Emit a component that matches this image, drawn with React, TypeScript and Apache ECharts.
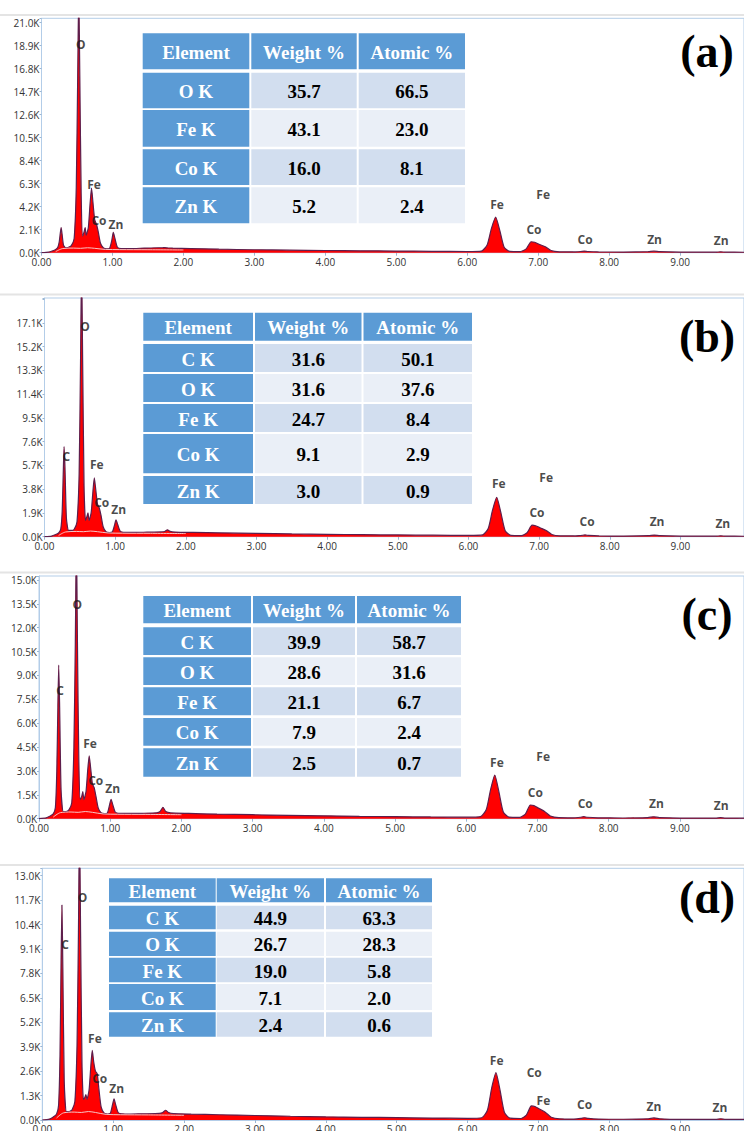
import React, { useEffect, useRef } from "react";
import * as echarts from "echarts";

// ---------- DATA ----------
const energies = [
  0.0, 0.1, 0.15, 0.2, 0.23, 0.25, 0.265, 0.277, 0.29, 0.31,
  0.34, 0.38, 0.42, 0.46, 0.49, 0.51, 0.525, 0.54, 0.56, 0.58,
  0.6, 0.615, 0.63, 0.66, 0.685, 0.705, 0.725, 0.75, 0.775, 0.8,
  0.83, 0.87, 0.92, 0.96, 0.99, 1.012, 1.035, 1.07, 1.12, 1.25,
  1.45, 1.65, 1.7, 1.74, 1.78, 1.85, 2.1, 2.5, 3.0, 3.5,
  4.0, 4.5, 5.0, 5.5, 6.0, 6.2, 6.28, 6.34, 6.4, 6.46,
  6.52, 6.6, 6.75, 6.83, 6.9, 6.95, 7.02, 7.1, 7.18, 7.3,
  7.5, 7.6, 7.65, 7.7, 7.85, 8.2, 8.55, 8.63, 8.71, 9.0,
  9.5, 9.57, 9.64, 9.9,
];

const countsA = [
  0, 50, 150, 300, 500, 1000, 1800, 2300, 1700, 700,
  450, 500, 650, 1300, 6000, 16000, 24000, 16000, 5000, 1500,
  1900, 2300, 1600, 2300, 4500, 5900, 4600, 3000, 2600, 1900,
  900, 450, 350, 400, 1100, 1850, 1300, 500, 380, 380,
  420, 450, 450, 460, 440, 420, 380, 320, 270, 230,
  200, 170, 150, 130, 110, 150, 700, 2200, 3250, 2000,
  500, 120, 100, 350, 1000, 950, 750, 550, 200, 80,
  70, 110, 150, 110, 70, 60, 90, 140, 90, 50,
  50, 80, 50, 40,
];

const countsB = [
  0, 50, 150, 300, 600, 2000, 5000, 7200, 5500, 1500,
  500, 500, 600, 1200, 5000, 14000, 22000, 14000, 4000, 1300,
  1600, 1900, 1300, 1900, 3600, 4700, 3800, 2600, 2300, 1700,
  800, 400, 330, 380, 900, 1350, 1000, 450, 350, 340,
  360, 380, 420, 550, 420, 370, 340, 300, 260, 220,
  190, 160, 140, 120, 100, 140, 650, 2100, 3150, 1900,
  480, 110, 90, 320, 920, 880, 700, 500, 180, 70,
  60, 100, 140, 100, 60, 50, 80, 130, 80, 45,
  45, 70, 45, 35,
];

const countsC = [
  0, 50, 150, 300, 700, 3000, 7000, 9650, 7000, 1800,
  450, 450, 550, 1000, 4500, 11000, 18000, 11000, 3500, 1200,
  1400, 1700, 1200, 1700, 3100, 3950, 3200, 2200, 1950, 1400,
  700, 380, 320, 360, 850, 1220, 900, 420, 340, 330,
  340, 370, 450, 720, 450, 360, 330, 290, 250, 210,
  180, 150, 130, 110, 95, 130, 560, 1800, 2740, 1650,
  420, 100, 85, 290, 860, 820, 650, 460, 170, 65,
  55, 90, 130, 90, 55, 45, 70, 120, 70, 40,
  40, 65, 40, 30,
];

const countsD = [
  0, 50, 150, 300, 800, 3500, 8500, 11440, 8000, 2000,
  450, 450, 550, 1000, 4000, 10000, 16000, 10000, 3000, 1100,
  1200, 1350, 1100, 1600, 2900, 3700, 3100, 2600, 2450, 1600,
  700, 380, 320, 360, 800, 1120, 820, 400, 330, 320,
  330, 350, 400, 520, 400, 340, 310, 280, 240, 200,
  170, 145, 125, 105, 90, 120, 520, 1700, 2520, 1550,
  400, 95, 80, 260, 750, 720, 570, 400, 150, 60,
  50, 85, 120, 85, 50, 40, 65, 110, 65, 35,
  35, 60, 35, 30,
];

// light background (bremsstrahlung fit) line
const bgEnergies = [0.2, 0.3, 0.45, 0.55, 0.65, 0.75, 0.9, 1.1, 1.5, 2.0];
const bgCounts = [100, 380, 420, 400, 450, 400, 300, 280, 270, 250];

const xTickLabels = ["0.00", "1.00", "2.00", "3.00", "4.00", "5.00", "6.00", "7.00", "8.00", "9.00"];
const yLabelsA = ["0.0K", "2.1K", "4.2K", "6.3K", "8.4K", "10.5K", "12.6K", "14.7K", "16.8K", "18.9K", "21.0K"];
const yLabelsB = ["0.0K", "1.9K", "3.8K", "5.7K", "7.6K", "9.5K", "11.4K", "13.3K", "15.2K", "17.1K"];
const yLabelsC = ["0.0K", "1.5K", "3.0K", "4.5K", "6.0K", "7.5K", "9.0K", "10.5K", "12.0K", "13.5K", "15.0K"];
const yLabelsD = ["0.0K", "1.3K", "2.6K", "3.9K", "5.2K", "6.5K", "7.8K", "9.1K", "10.4K", "11.7K", "13.0K"];

const peakLabelsA: [number, number, string][] = [
  [0.552, 19050, "O"], [0.74, 6245, "Fe"], [0.81, 2985, "Co"], [1.05, 2530, "Zn"],
  [6.42, 4355, "Fe"], [7.07, 5270, "Fe"], [6.94, 2135, "Co"], [7.66, 1220, "Co"],
  [8.64, 1160, "Zn"], [9.58, 1095, "Zn"],
];
const peakLabelsB: [number, number, string][] = [
  [0.31, 6420, "C"], [0.574, 16840, "O"], [0.74, 5750, "Fe"], [0.81, 2730, "Co"], [1.05, 2140, "Zn"],
  [6.43, 4230, "Fe"], [7.1, 4710, "Fe"], [6.97, 1900, "Co"], [7.68, 1180, "Co"],
  [8.67, 1180, "Zn"], [9.6, 1020, "Zn"],
];
const peakLabelsC: [number, number, string][] = [
  [0.295, 8040, "C"], [0.538, 13480, "O"], [0.716, 4730, "Fe"], [0.796, 2370, "Co"], [1.035, 1870, "Zn"],
  [6.43, 3560, "Fe"], [7.08, 3890, "Fe"], [6.97, 1620, "Co"], [7.67, 930, "Co"],
  [8.67, 930, "Zn"], [9.58, 800, "Zn"],
];
const peakLabelsD: [number, number, string][] = [
  [0.32, 9360, "C"], [0.569, 11850, "O"], [0.742, 4350, "Fe"], [0.81, 2220, "Co"], [1.05, 1690, "Zn"],
  [6.41, 3190, "Fe"], [6.94, 2520, "Co"], [7.07, 1060, "Fe"], [7.65, 800, "Co"],
  [8.63, 745, "Zn"], [9.56, 675, "Zn"],
];

const tableHeader = ["Element", "Weight %", "Atomic %"];
const tableA = [
  ["O K", "35.7", "66.5"],
  ["Fe K", "43.1", "23.0"],
  ["Co K", "16.0", "8.1"],
  ["Zn K", "5.2", "2.4"],
];
const tableB = [
  ["C K", "31.6", "50.1"],
  ["O K", "31.6", "37.6"],
  ["Fe K", "24.7", "8.4"],
  ["Co K", "9.1", "2.9"],
  ["Zn K", "3.0", "0.9"],
];
const tableC = [
  ["C K", "39.9", "58.7"],
  ["O K", "28.6", "31.6"],
  ["Fe K", "21.1", "6.7"],
  ["Co K", "7.9", "2.4"],
  ["Zn K", "2.5", "0.7"],
];
const tableD = [
  ["C K", "44.9", "63.3"],
  ["O K", "26.7", "28.3"],
  ["Fe K", "19.0", "5.8"],
  ["Co K", "7.1", "2.0"],
  ["Zn K", "2.4", "0.6"],
];

const panelLetters = ["(a)", "(b)", "(c)", "(d)"];

// ---------- LAYOUT ----------
const panels = [
  {
    counts: countsA, yLabels: yLabelsA, peaks: peakLabelsA, table: tableA,
    top: 18.3, height: 234.4, left: 41.5, yMax: 21400, yInterval: 2100, sepY: 15, letterY: 51,
    tx: [142.7, 251.3, 358.7], tw: [106.6, 105.4, 106.3],
    ty: [33.3, 72.7, 110, 149.3, 187.3], th: [36, 35.6, 36.7, 35.7, 36],
  },
  {
    counts: countsB, yLabels: yLabelsB, peaks: peakLabelsB, table: tableB,
    top: 298, height: 238.7, left: 44.5, yMax: 19100, yInterval: 1900, sepY: 294.5, letterY: 336,
    tx: [143.3, 255, 363.5], tw: [109.7, 106.5, 108.5],
    ty: [312.7, 344, 374, 404, 434, 476], th: [28, 28, 28, 28, 39.3, 28],
  },
  {
    counts: countsC, yLabels: yLabelsC, peaks: peakLabelsC, table: tableC,
    top: 576, height: 242.7, left: 39, yMax: 15250, yInterval: 1500, sepY: 572.5, letterY: 614,
    tx: [143.3, 253, 357], tw: [107.7, 102, 104],
    ty: [596, 627.3, 657.3, 687.3, 718, 748.3], th: [27.3, 27.7, 27.7, 28, 27.7, 28.4],
  },
  {
    counts: countsD, yLabels: yLabelsD, peaks: peakLabelsD, table: tableD,
    top: 868.3, height: 251.7, left: 42.3, yMax: 13394, yInterval: 1300, sepY: 865, letterY: 897,
    tx: [109, 216.7, 326], tw: [106.7, 107.3, 106],
    ty: [878.3, 905.7, 931.7, 957.7, 984, 1012.3], th: [24, 23.6, 24.3, 24.6, 26, 24.4],
  },
];

const BLUE = "#5b9bd5";
const BAND1 = "#d2deef";
const BAND2 = "#eaeff7";
const FRAME = "#b3cde8";

function tableGraphics(p: any, rows: string[][]) {
  const els: any[] = [];
  const all = [tableHeader, ...rows];
  all.forEach((row, r) => {
    row.forEach((cell, c) => {
      const x = p.tx[c];
      const w = p.tw[c];
      const y = p.ty[r];
      const h = p.th[r];
      const blue = r === 0 || c === 0;
      const fill = blue ? BLUE : r % 2 === 1 ? BAND1 : BAND2;
      els.push({
        type: "rect",
        silent: true,
        z: 100,
        shape: { x, y, width: w, height: h },
        style: { fill },
      });
      els.push({
        type: "text",
        silent: true,
        z: 101,
        style: {
          text: cell,
          x: x + w / 2,
          y: y + h / 2 + 1,
          fill: blue ? "#ffffff" : "#000000",
          font: 'bold 19px "Liberation Serif", "Times New Roman", serif',
          textAlign: "center",
          textVerticalAlign: "middle",
          align: "center",
          verticalAlign: "middle",
        },
      });
    });
  });
  return els;
}

export default function App() {
  const ref = useRef<HTMLDivElement>(null);

  useEffect(() => {
    if (!ref.current) return;
    const chart = echarts.init(ref.current, undefined, { renderer: "svg" });

    const grid: any[] = [];
    const xAxis: any[] = [];
    const yAxis: any[] = [];
    const series: any[] = [];
    const graphic: any[] = [];

    panels.forEach((p, i) => {
      grid.push({
        left: p.left,
        right: 0,
        top: p.top,
        height: p.height,
        show: true,
        borderColor: FRAME,
        borderWidth: 1,
        backgroundColor: "rgba(0,0,0,0)",
        containLabel: false,
        outerBoundsMode: "none",
      });
      xAxis.push({
        type: "value",
        gridIndex: i,
        min: 0,
        max: 9.9,
        interval: 1,
        axisLine: { show: true, onZero: false, lineStyle: { color: FRAME, width: 1 } },
        axisTick: { show: true, length: 3, lineStyle: { color: "#9bb6d3" } },
        splitLine: { show: false },
        axisLabel: {
          margin: 4,
          fontSize: 10,
          color: "#333",
          fontFamily: "Open Sans",
          formatter: (v: number) => {
            const k = Math.round(v);
            return Math.abs(v - k) < 1e-6 && xTickLabels[k] ? xTickLabels[k] : "";
          },
        },
      });
      const labels = p.yLabels;
      const iv = p.yInterval;
      yAxis.push({
        type: "value",
        gridIndex: i,
        min: 0,
        max: p.yMax,
        interval: iv,
        axisLine: { show: true, lineStyle: { color: FRAME, width: 1 } },
        axisTick: { show: true, length: 2, lineStyle: { color: "#9bb6d3" } },
        splitLine: { show: false },
        axisLabel: {
          margin: 2,
          fontSize: 10,
          color: "#333",
          fontFamily: "Open Sans",
          formatter: (v: number) => {
            const k = Math.round(v / iv);
            if (Math.abs(v - k * iv) > 1) return "";
            return labels[k] ?? "";
          },
        },
      });
      series.push({
        type: "line",
        xAxisIndex: i,
        yAxisIndex: i,
        data: energies.map((e, j) => [e, p.counts[j]]),
        symbol: "none",
        smooth: 0.2,
        clip: true,
        lineStyle: { color: "#5e1e4c", width: 1.2 },
        areaStyle: { color: "#ff0000", opacity: 1 },
        z: 2,
        silent: true,
      });
      series.push({
        type: "line",
        xAxisIndex: i,
        yAxisIndex: i,
        data: bgEnergies.map((e, j) => [e, bgCounts[j]]),
        symbol: "none",
        smooth: 0.3,
        lineStyle: { color: "#f7c4c4", width: 1 },
        z: 3,
        silent: true,
      });
      series.push({
        type: "scatter",
        xAxisIndex: i,
        yAxisIndex: i,
        data: p.peaks,
        symbolSize: 1,
        itemStyle: { color: "rgba(0,0,0,0)" },
        silent: true,
        z: 4,
        label: {
          show: true,
          position: "inside",
          formatter: (q: any) => q.value[2],
          fontSize: 12,
          fontWeight: "bold",
          fontFamily: "Open Sans",
          color: "#1a1a1a",
        },
      });

      graphic.push({
        type: "line",
        silent: true,
        z: 100,
        shape: { x1: 0, y1: p.sepY, x2: 744, y2: p.sepY },
        style: { stroke: "#e4e4e4", lineWidth: 2 },
      });
      graphic.push(...tableGraphics(p, p.table));
      graphic.push({
        type: "text",
        silent: true,
        z: 101,
        style: {
          text: panelLetters[i],
          x: 707,
          y: p.letterY,
          fill: "#000",
          font: 'bold 46px "Liberation Serif", "Times New Roman", serif',
          textAlign: "center",
          textVerticalAlign: "middle",
          align: "center",
          verticalAlign: "middle",
        },
      });
    });

    chart.setOption({
      animation: false,
      backgroundColor: "#ffffff",
      grid,
      xAxis,
      yAxis,
      series,
      graphic: { elements: graphic },
    });

    return () => chart.dispose();
  }, []);

  return (
    <div
      ref={ref}
      style={{ position: "absolute", left: 0, top: 0, width: 744, height: 1131 }}
    />
  );
}
